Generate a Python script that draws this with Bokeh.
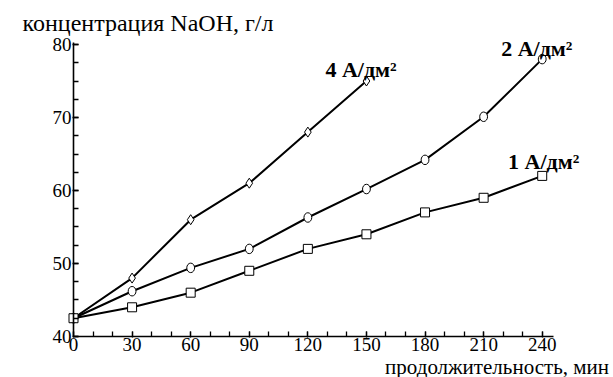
from bokeh.plotting import figure
from bokeh.models import SingleIntervalTicker, Label, Range1d
from bokeh.embed import file_html
from bokeh.resources import INLINE

t = [0, 30, 60, 90, 120, 150, 180, 210, 240]
c4 = [42.5, 48, 56, 61, 68, 75]
c2 = [42.5, 46.2, 49.4, 52, 56.3, 60.2, 64.2, 70.1, 78]
c1 = [42.5, 44, 46, 49, 52, 54, 57, 59, 62]
series_names = ["4 А/дм²", "2 А/дм²", "1 А/дм²"]
y_title = "концентрация NaOH, г/л"
x_title = "продолжительность, мин"

FONT = "Liberation Serif"

p = figure(width=613, height=377, output_backend="svg", toolbar_location=None,
           x_range=Range1d(-37.38, 276.5), y_range=Range1d(34.38, 86.03),
           min_border_left=0, min_border_right=0, min_border_top=0, min_border_bottom=0)
p.outline_line_color = None
p.grid.visible = False
p.background_fill_color = "white"

p.axis.axis_line_width = 1.6
p.axis.axis_line_color = "black"
p.axis.major_tick_line_color = "black"
p.axis.minor_tick_line_color = "black"
p.axis.major_tick_line_width = 1.3
p.axis.minor_tick_line_width = 1.3
p.axis.major_tick_in = 5
p.axis.major_tick_out = 1
p.axis.minor_tick_in = 5
p.axis.minor_tick_out = 0
p.axis.major_label_text_font = FONT
p.axis.major_label_text_font_size = "19px"
p.axis.major_label_text_color = "black"
p.axis.major_label_standoff = 1

p.xaxis.ticker = SingleIntervalTicker(interval=30, num_minor_ticks=3)
p.yaxis.ticker = SingleIntervalTicker(interval=10, num_minor_ticks=4)
p.xaxis.fixed_location = 40
p.yaxis.fixed_location = 0
p.xaxis.bounds = (0, 246)
p.yaxis.bounds = (40, 80.3)

p.line(t[:len(c4)], c4, line_color="black", line_width=2)
p.line(t, c2, line_color="black", line_width=2)
p.line(t, c1, line_color="black", line_width=2)
p.scatter(t[:len(c4)], c4, marker="diamond", size=10, line_color="black", fill_color="white", line_width=1)
p.ellipse(t, c2, width=4.0, height=1.3, line_color="black", fill_color="white", line_width=1)
p.scatter(t, c1, marker="square", size=9, line_color="black", fill_color="white", line_width=1)

label_pos = [(129.0, 76.6), (219.0, 79.45), (222.5, 64.0)]
for name, (lx, ly) in zip(series_names, label_pos):
    p.add_layout(Label(x=lx, y=ly, text=name, text_font=FONT, text_font_size="22px",
                       text_font_style="bold", text_color="black", text_baseline="alphabetic"))

p.add_layout(Label(x=-26.1, y=82.9, text=y_title, text_font=FONT, text_font_size="24px",
                   text_color="black", text_baseline="alphabetic"))
p.add_layout(Label(x=274.2, y=35.8, text=x_title, text_font=FONT, text_font_size="21px",
                   text_color="black", text_baseline="alphabetic", text_align="right"))

open("out.html", "w").write(file_html(p, INLINE))
